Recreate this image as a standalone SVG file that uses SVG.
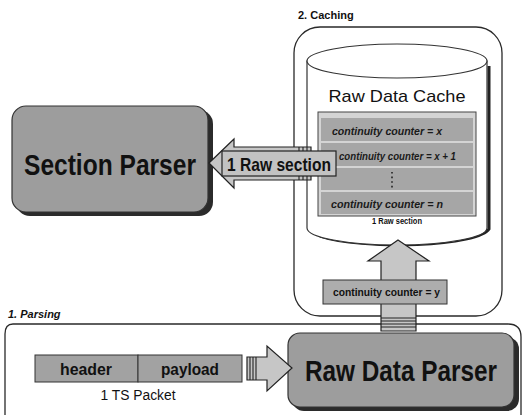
<svg xmlns="http://www.w3.org/2000/svg" width="526" height="415" viewBox="0 0 526 415">
  <defs>
    <style>
      .stage { fill: none; stroke: #2a2a2a; stroke-width: 1.3; }
      .stage-label { font-family: "Liberation Sans Narrow", "Liberation Sans", Arial, sans-serif; font-weight: bold; font-size: 11px; fill: #111; }
      .node { fill: #9d9d9d; stroke: #333; stroke-width: 1.2; }
      .shadow { fill: #2b2b2b; }
      .big { font-family: "Liberation Sans Narrow", "Liberation Sans", Arial, sans-serif; font-weight: bold; font-size: 29px; fill: #111; }
      .arrow { fill: #c6c6c6; stroke: #222; stroke-width: 1.2; stroke-linejoin: miter; }
      .stripe { stroke: #222; stroke-width: 1.1; }
      .row { fill: #a6a6a6; }
      .cc { font-family: "Liberation Sans Narrow", "Liberation Sans", Arial, sans-serif; font-weight: bold; font-style: italic; font-size: 10.5px; fill: #1a1a1a; }
      .label { font-family: "Liberation Sans Narrow", "Liberation Sans", Arial, sans-serif; font-weight: bold; fill: #111; }
      .plain { font-family: "Liberation Sans Narrow", "Liberation Sans", Arial, sans-serif; fill: #111; }
    </style>
  </defs>
  <rect width="526" height="415" fill="#ffffff"/>

  <!-- stage 2: caching -->
  <g id="stage-caching">
    <rect class="stage" x="294" y="27" width="208" height="289" rx="26"/>
    <text class="stage-label" x="298" y="19">2. Caching</text>
  </g>

  <!-- stage 1: parsing -->
  <g id="stage-parsing">
    <path class="stage" d="M 13 324 Q 5 324 5 334 L 5 415 M 13 324 L 508 324 Q 521 324 521 337 L 521 415"/>
    <text class="stage-label" x="8" y="318" font-style="italic">1. Parsing</text>
  </g>

  <!-- raw data cache cylinder -->
  <g id="raw-data-cache">
    <path d="M 489 66 L 489 229 A 91 18 0 0 1 320 236" fill="none" stroke="#222" stroke-width="3"/>
    <path d="M 307 61 L 307 228 A 90 17 0 0 0 487 228 L 487 61 Z" fill="#ffffff" stroke="#333" stroke-width="1.2"/>
    <ellipse cx="397" cy="61" rx="90" ry="17" fill="#ffffff" stroke="#333" stroke-width="1.2"/>
    <text class="plain" x="397" y="102" font-size="17" text-anchor="middle" textLength="137" lengthAdjust="spacingAndGlyphs">Raw Data Cache</text>
    <rect x="318" y="112" width="158" height="104" fill="#d4d4d4" stroke="#444" stroke-width="1"/>
    <rect class="row" x="321" y="118" width="152" height="23"/>
    <rect class="row" x="321" y="143" width="152" height="23"/>
    <rect class="row" x="321" y="168" width="152" height="22"/>
    <rect class="row" x="321" y="192" width="152" height="22"/>
    <text class="cc" x="332" y="135" textLength="110" lengthAdjust="spacingAndGlyphs">continuity counter = x</text>
    <text class="cc" x="339" y="160" textLength="117" lengthAdjust="spacingAndGlyphs">continuity counter = x + 1</text>
    <line x1="392" y1="172" x2="392" y2="188" stroke="#222" stroke-width="1.6" stroke-dasharray="1.6 3"/>
    <text class="cc" x="331" y="208" textLength="112" lengthAdjust="spacingAndGlyphs">continuity counter = n</text>
    <text class="label" x="397" y="224" font-size="9" text-anchor="middle" textLength="50" lengthAdjust="spacingAndGlyphs">1 Raw section</text>
  </g>

  <!-- section parser -->
  <g id="section-parser">
    <rect class="shadow" x="16" y="110" width="197" height="106" rx="14"/>
    <rect class="node" x="12" y="106" width="196" height="106" rx="14"/>
    <text class="big" x="110" y="175" text-anchor="middle" textLength="172" lengthAdjust="spacingAndGlyphs">Section Parser</text>
  </g>

  <!-- raw data parser -->
  <g id="raw-data-parser">
    <rect class="shadow" x="292" y="337" width="227" height="74" rx="12"/>
    <rect class="node" x="288" y="333" width="226" height="74" rx="12"/>
    <text class="big" transform="translate(401 381) scale(0.84 1)" x="0" y="0" text-anchor="middle">Raw Data Parser</text>
  </g>

  <!-- ts packet -->
  <g id="ts-packet">
    <rect x="35" y="355" width="103" height="27" fill="#a2a2a2" stroke="#333" stroke-width="1"/>
    <rect x="138" y="355" width="104" height="27" fill="#a2a2a2" stroke="#333" stroke-width="1"/>
    <text class="label" x="86" y="375" font-size="16" text-anchor="middle" textLength="52" lengthAdjust="spacingAndGlyphs">header</text>
    <text class="label" x="190" y="375" font-size="16" text-anchor="middle" textLength="58" lengthAdjust="spacingAndGlyphs">payload</text>
    <text class="plain" x="138" y="400" font-size="14" text-anchor="middle" textLength="75" lengthAdjust="spacingAndGlyphs">1 TS Packet</text>
  </g>

  <!-- connectors -->
  <g id="connectors">
    <!-- cache to section parser -->
    <path class="arrow" d="M 209 163 L 234 139 L 234 147 L 311 147 L 311 180 L 234 180 L 234 188 Z"/>
    <line class="stripe" x1="299" y1="147" x2="299" y2="180"/>
    <line class="stripe" x1="303" y1="147" x2="303" y2="180"/>
    <line class="stripe" x1="307" y1="147" x2="307" y2="180"/>
    <rect x="222" y="151" width="114" height="25" fill="#c2c2c2" stroke="#222" stroke-width="1.2"/>
    <text class="label" x="279" y="171" font-size="19" text-anchor="middle" textLength="104" lengthAdjust="spacingAndGlyphs">1 Raw section</text>

    <!-- raw data parser to cache -->
    <path class="arrow" d="M 398 240 L 429 261 L 416 261 L 416 331 L 381 331 L 381 261 L 368 261 Z"/>
    <line class="stripe" x1="381" y1="318" x2="416" y2="318"/>
    <line class="stripe" x1="381" y1="321" x2="416" y2="321"/>
    <line class="stripe" x1="381" y1="324" x2="416" y2="324"/>
    <line class="stripe" x1="381" y1="327" x2="416" y2="327"/>
    <rect x="323" y="280" width="124" height="24" fill="#adadad" stroke="#333" stroke-width="1"/>
    <text class="label" x="333" y="296" font-size="10.5" textLength="107" lengthAdjust="spacingAndGlyphs">continuity counter = y</text>

    <!-- ts packet to raw data parser -->
    <path class="arrow" d="M 247 357 L 267 357 L 267 346 L 292 368 L 267 391 L 267 380 L 247 380 Z"/>
    <line class="stripe" x1="250" y1="357" x2="250" y2="380"/>
    <line class="stripe" x1="253" y1="357" x2="253" y2="380"/>
    <line class="stripe" x1="256" y1="357" x2="256" y2="380"/>
  </g>
</svg>
